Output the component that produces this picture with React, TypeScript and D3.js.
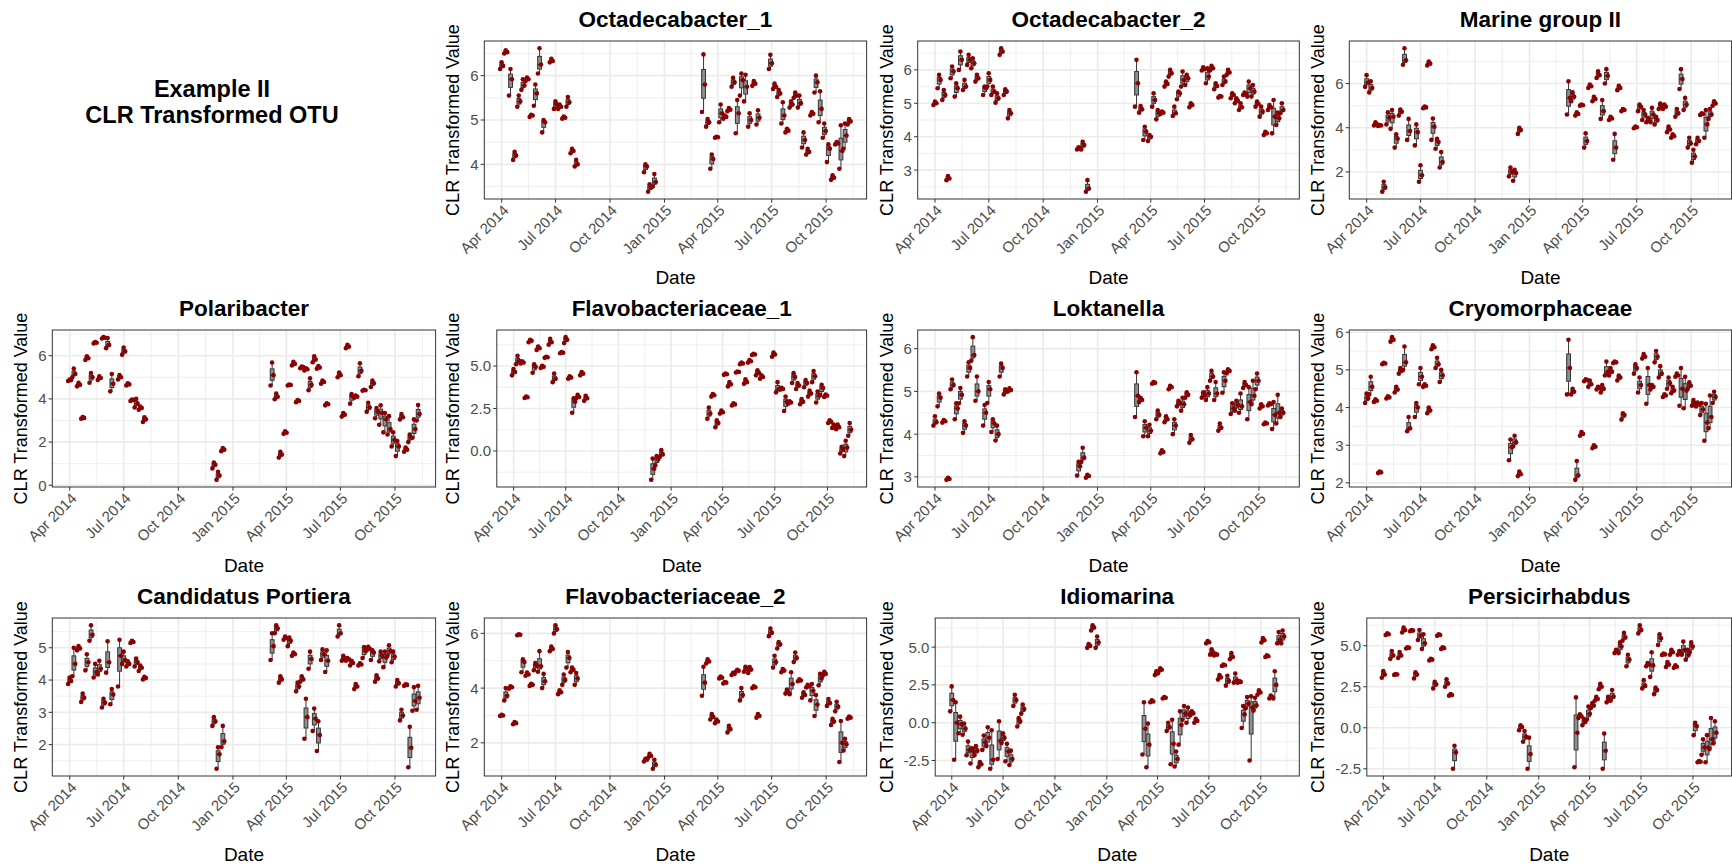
import React from "react";
import * as d3 from "d3";

// sampling dates shared by every taxon (3 replicates per date)
const sampleDates = [
  "2014-04-01", "2014-04-08", "2014-04-16", "2014-04-23", "2014-04-30", "2014-05-07",
  "2014-05-14", "2014-05-21", "2014-05-28", "2014-06-04", "2014-06-11", "2014-06-24",
  "2014-07-01", "2014-07-08", "2014-07-15", "2014-07-22", "2014-07-29", "2014-08-05",
  "2014-11-30", "2014-12-07", "2014-12-15",
  "2015-03-08", "2015-03-15", "2015-03-22", "2015-03-30", "2015-04-06", "2015-04-13",
  "2015-04-20", "2015-04-27", "2015-05-04", "2015-05-11", "2015-05-18", "2015-05-25",
  "2015-06-01", "2015-06-08", "2015-06-29", "2015-07-06", "2015-07-13", "2015-07-20",
  "2015-07-27", "2015-08-03", "2015-08-10", "2015-08-17", "2015-08-24", "2015-08-31",
  "2015-09-07", "2015-09-14", "2015-09-21", "2015-09-28", "2015-10-05", "2015-10-12",
  "2015-10-19", "2015-10-26", "2015-11-02", "2015-11-09",
];

const dateBreaks = ["2014-04-01", "2014-07-01", "2014-10-01", "2015-01-01", "2015-04-01", "2015-07-01", "2015-10-01"];
// outer quarter bounds, only used to place the minor grid lines
const dateBreaksOuter = ["2014-01-01", "2016-01-01"];

// CLR values per date: [low, mid, high] replicate
const octadecabacter1 = [
  [6.15, 6.22, 6.3], [6.5, 6.53, 6.57], [5.55, 5.92, 6.15], [4.1, 4.2, 4.28], [5.3, 5.42, 5.55], [5.68, 5.78, 5.92],
  [5.88, 5.92, 5.96], [5.07, 5.1, 5.12], [5.32, 5.6, 5.8], [6.05, 6.25, 6.62], [4.72, 4.95, 5.0], [6.3, 6.33, 6.38],
  [5.25, 5.35, 5.42], [5.25, 5.3, 5.35], [5.03, 5.05, 5.08], [5.3, 5.4, 5.52], [4.25, 4.3, 4.35], [3.95, 4.0, 4.1],
  [3.82, 3.95, 4.0], [3.38, 3.48, 3.55], [3.5, 3.6, 3.78],
  [5.18, 5.8, 6.48], [4.85, 4.95, 5.02], [3.9, 4.12, 4.22], [4.6, 4.61, 4.62], [4.95, 5.15, 5.35], [5.03, 5.07, 5.1],
  [5.2, 5.23, 5.27], [5.75, 5.85, 5.95], [4.7, 5.15, 5.45], [5.55, 5.9, 6.05], [5.42, 5.75, 6.02], [4.85, 5.0, 5.15],
  [5.77, 5.82, 5.88], [4.9, 5.05, 5.22], [6.15, 6.28, 6.47], [5.7, 5.75, 5.82], [5.52, 5.6, 5.68], [4.92, 5.1, 5.4],
  [4.72, 4.76, 4.8], [5.28, 5.35, 5.42], [5.5, 5.55, 5.62], [5.28, 5.38, 5.55], [4.38, 4.55, 4.72], [4.22, 4.28, 4.35],
  [5.1, 5.14, 5.18], [5.62, 5.85, 6.0], [4.95, 5.25, 5.65], [4.6, 4.75, 4.92], [4.05, 4.35, 4.45], [3.65, 3.7, 3.75],
  [4.45, 4.47, 4.5], [3.9, 4.3, 4.88], [4.35, 4.65, 4.92], [4.9, 4.97, 5.02],
];

const octadecabacter2 = [
  [4.95, 5.0, 5.05], [5.45, 5.7, 5.85], [5.1, 5.25, 5.4], [2.7, 2.75, 2.82], [5.75, 5.95, 6.1], [5.2, 5.45, 5.6],
  [6.0, 6.3, 6.55], [5.4, 5.5, 5.7], [6.15, 6.3, 6.45], [6.05, 6.2, 6.35], [5.65, 5.75, 5.85], [5.25, 5.45, 5.5],
  [5.5, 5.7, 5.9], [5.25, 5.35, 5.5], [5.02, 5.15, 5.3], [6.45, 6.55, 6.65], [5.25, 5.35, 5.42], [4.55, 4.7, 4.8],
  [3.62, 3.65, 3.68], [3.62, 3.75, 3.85], [2.35, 2.45, 2.7],
  [4.9, 5.6, 6.3], [4.72, 4.82, 4.92], [3.9, 4.15, 4.3], [3.87, 4.0, 4.05], [4.9, 5.1, 5.3], [4.52, 4.7, 4.8],
  [4.68, 4.72, 4.75], [5.5, 5.58, 5.65], [5.8, 5.9, 6.0], [4.62, 4.7, 4.9], [5.12, 5.3, 5.35], [5.5, 5.7, 5.95],
  [5.55, 5.75, 5.85], [4.88, 4.95, 5.0], [5.98, 6.02, 6.08], [5.6, 5.8, 6.05], [5.98, 6.05, 6.12], [5.42, 5.52, 5.6],
  [5.17, 5.2, 5.22], [5.55, 5.65, 5.8], [5.85, 5.92, 6.0], [5.15, 5.25, 5.3], [5.0, 5.08, 5.15], [4.8, 4.88, 5.0],
  [5.25, 5.28, 5.32], [5.2, 5.45, 5.65], [5.2, 5.35, 5.55], [4.9, 4.98, 5.05], [4.6, 4.75, 4.9], [4.05, 4.1, 4.15],
  [4.8, 4.88, 4.95], [4.1, 4.6, 5.1], [4.35, 4.55, 4.72], [4.7, 4.8, 5.0],
];

const marineGroupII = [
  [5.85, 6.05, 6.38], [5.6, 5.8, 6.1], [4.1, 4.15, 4.25], [4.08, 4.1, 4.12], [1.1, 1.3, 1.55], [4.15, 4.45, 4.7],
  [3.95, 4.5, 4.8], [3.1, 3.5, 3.7], [4.55, 4.72, 4.82], [6.85, 7.05, 7.6], [3.45, 3.85, 4.4], [3.2, 3.8, 4.15],
  [1.55, 1.85, 2.3], [4.88, 4.92, 4.96], [6.82, 6.9, 7.0], [3.45, 4.05, 4.42], [3.05, 3.35, 3.5], [2.2, 2.45, 2.9],
  [1.8, 2.0, 2.2], [1.6, 1.95, 2.1], [3.72, 3.9, 4.0],
  [4.6, 5.35, 6.1], [5.2, 5.4, 5.6], [4.55, 4.62, 4.7], [5.0, 5.02, 5.05], [3.1, 3.4, 3.75], [5.8, 5.88, 5.95],
  [5.2, 5.3, 5.4], [6.25, 6.38, 6.55], [4.4, 4.75, 5.25], [6.0, 6.35, 6.65], [4.35, 4.42, 4.5], [2.55, 3.1, 3.72],
  [5.7, 5.8, 5.9], [4.75, 4.8, 4.85], [3.98, 4.02, 4.05], [4.75, 4.95, 5.05], [4.35, 4.6, 4.8], [4.25, 4.35, 4.45],
  [4.25, 4.6, 4.9], [4.15, 4.35, 4.5], [4.85, 5.0, 5.1], [4.85, 4.95, 5.05], [3.8, 3.92, 4.05], [3.55, 3.62, 3.7],
  [4.5, 4.65, 4.85], [5.75, 6.2, 6.65], [4.8, 5.05, 5.35], [3.1, 3.3, 3.55], [2.42, 2.7, 3.0], [3.25, 3.4, 3.55],
  [4.58, 4.62, 4.65], [3.55, 4.15, 4.8], [4.4, 4.6, 4.85], [5.0, 5.1, 5.2],
];

const polaribacter = [
  [4.83, 4.87, 4.9], [5.0, 5.15, 5.4], [4.58, 4.65, 4.75], [3.08, 3.12, 3.16], [5.8, 5.88, 5.97], [4.75, 5.0, 5.2],
  [6.57, 6.6, 6.63], [4.88, 4.97, 5.05], [6.8, 6.83, 6.86], [6.35, 6.5, 6.82], [4.35, 4.7, 5.15], [4.9, 5.0, 5.1],
  [6.05, 6.2, 6.38], [4.62, 4.67, 4.72], [3.9, 3.95, 3.97], [3.6, 3.78, 4.0], [3.5, 3.58, 3.65], [2.93, 3.05, 3.15],
  [0.78, 0.95, 1.05], [0.25, 0.45, 0.62], [1.58, 1.65, 1.72],
  [4.62, 5.1, 5.68], [3.98, 4.1, 4.25], [1.28, 1.42, 1.55], [2.38, 2.43, 2.5], [4.62, 4.64, 4.66], [5.55, 5.62, 5.72],
  [3.85, 3.9, 3.95], [5.42, 5.47, 5.5], [5.32, 5.37, 5.42], [4.4, 4.65, 4.95], [5.7, 5.82, 5.97], [5.4, 5.45, 5.52],
  [4.7, 4.78, 4.85], [3.7, 3.75, 3.8], [5.0, 5.1, 5.22], [3.18, 3.27, 3.35], [6.35, 6.42, 6.5], [3.78, 4.1, 4.22],
  [4.05, 4.1, 4.15], [5.05, 5.3, 5.65], [4.38, 4.4, 4.42], [3.4, 3.6, 3.82], [4.55, 4.72, 4.85], [3.1, 3.4, 3.58],
  [2.8, 3.35, 3.7], [2.45, 3.05, 3.35], [2.35, 2.6, 3.2], [1.8, 2.1, 2.45], [1.35, 1.8, 2.05], [3.05, 3.15, 3.3],
  [1.55, 1.65, 1.75], [2.0, 2.2, 2.35], [2.2, 2.6, 3.05], [3.0, 3.3, 3.72],
];

const flavobacteriaceae1 = [
  [4.45, 4.65, 4.82], [5.1, 5.3, 5.6], [5.15, 5.2, 5.28], [3.12, 3.16, 3.2], [6.4, 6.48, 6.55], [4.6, 4.95, 5.1],
  [5.95, 6.05, 6.15], [4.88, 4.95, 5.02], [5.48, 5.52, 5.55], [6.25, 6.4, 6.6], [4.05, 4.25, 4.55], [5.75, 5.78, 5.82],
  [6.35, 6.55, 6.7], [4.25, 4.32, 4.4], [2.25, 2.9, 3.1], [3.1, 3.18, 3.3], [4.45, 4.55, 4.65], [2.95, 3.1, 3.25],
  [-1.7, -1.05, -0.45], [-0.85, -0.5, -0.3], [-0.35, -0.2, 0.05],
  [1.9, 2.2, 2.55], [3.2, 3.28, 3.35], [1.4, 1.65, 1.8], [2.2, 2.28, 2.38], [4.48, 4.52, 4.55], [3.8, 3.92, 4.05],
  [2.68, 2.74, 2.8], [4.62, 4.65, 4.67], [5.1, 5.15, 5.2], [3.95, 4.05, 4.22], [5.2, 5.28, 5.35], [5.65, 5.68, 5.72],
  [4.45, 4.6, 4.75], [4.25, 4.35, 4.45], [5.55, 5.68, 5.8], [3.45, 3.65, 4.05], [3.6, 3.65, 3.72], [2.35, 2.9, 3.2],
  [2.78, 2.85, 2.92], [4.0, 4.35, 4.58], [3.65, 3.85, 4.0], [2.75, 2.9, 3.05], [3.75, 4.0, 4.18], [3.2, 3.38, 3.55],
  [4.05, 4.4, 4.7], [2.85, 3.25, 3.5], [3.3, 3.7, 3.9], [3.18, 3.25, 3.32], [1.65, 1.72, 1.8], [1.35, 1.45, 1.55],
  [1.28, 1.4, 1.55], [-0.15, 0.08, 0.25], [-0.3, 0.2, 0.6], [0.9, 1.25, 1.65],
];

const loktanella = [
  [4.2, 4.28, 4.42], [4.65, 4.85, 4.95], [4.27, 4.3, 4.33], [2.93, 2.95, 2.98], [5.05, 5.15, 5.28], [4.35, 4.6, 4.72],
  [4.72, 4.92, 5.08], [4.03, 4.2, 4.3], [5.35, 5.55, 5.68], [5.72, 5.85, 6.27], [4.78, 5.0, 5.35], [4.2, 4.5, 4.68],
  [4.73, 5.05, 5.22], [4.05, 4.25, 4.35], [3.85, 4.0, 4.2], [5.35, 5.55, 5.65], [4.93, 5.0, 5.05], [5.0, 5.03, 5.07],
  [3.03, 3.25, 3.35], [3.35, 3.45, 3.68], [2.98, 3.02, 3.05],
  [4.4, 4.9, 5.45], [4.75, 4.8, 4.85], [3.95, 4.15, 4.3], [3.95, 4.08, 4.22], [5.18, 5.2, 5.22], [4.35, 4.45, 4.55],
  [3.55, 3.58, 3.62], [4.28, 4.35, 4.42], [5.05, 5.1, 5.13], [4.0, 4.2, 4.35], [4.65, 4.72, 4.78], [4.55, 4.7, 4.85],
  [4.85, 4.92, 4.98], [3.8, 3.88, 3.98], [4.85, 4.9, 4.98], [4.8, 4.95, 5.1], [5.25, 5.35, 5.48], [4.8, 4.95, 5.22],
  [4.08, 4.15, 4.25], [4.97, 5.25, 5.45], [5.42, 5.48, 5.52], [4.47, 4.6, 4.72], [4.55, 4.68, 4.78], [4.5, 4.65, 4.95],
  [5.08, 5.15, 5.22], [4.35, 4.75, 5.1], [4.7, 4.9, 5.25], [5.05, 5.25, 5.42], [4.6, 4.65, 4.7], [4.23, 4.25, 4.27],
  [4.67, 4.7, 4.72], [4.12, 4.45, 4.75], [4.25, 4.5, 4.92], [4.4, 4.5, 4.6],
];

const cryomorphaceae = [
  [4.12, 4.25, 4.37], [4.35, 4.55, 4.82], [4.15, 4.18, 4.22], [2.26, 2.28, 2.3], [5.15, 5.17, 5.19], [4.24, 4.27, 4.3],
  [5.75, 5.8, 5.87], [4.4, 4.48, 4.55], [4.9, 4.98, 5.05], [5.0, 5.2, 5.62], [3.37, 3.45, 3.75], [3.75, 4.0, 4.12],
  [4.62, 4.82, 5.05], [4.55, 4.58, 4.62], [3.85, 3.92, 4.0], [5.55, 5.6, 5.65], [5.05, 5.15, 5.32], [4.68, 4.85, 5.0],
  [2.6, 2.95, 3.15], [2.97, 3.08, 3.25], [2.18, 2.23, 2.3],
  [4.35, 5.05, 5.8], [4.35, 4.42, 4.5], [2.08, 2.2, 2.58], [3.25, 3.3, 3.35], [4.7, 4.73, 4.75], [4.55, 4.62, 4.72],
  [2.92, 2.96, 3.0], [4.48, 4.52, 4.55], [4.4, 4.5, 4.6], [4.85, 4.95, 5.22], [4.85, 4.95, 5.05], [5.18, 5.2, 5.22],
  [4.72, 4.8, 4.85], [3.68, 3.8, 3.85], [4.9, 5.05, 5.15], [4.4, 4.6, 4.8], [5.3, 5.35, 5.42], [4.1, 4.6, 5.05],
  [4.48, 4.55, 4.6], [5.2, 5.35, 5.5], [4.8, 4.9, 5.1], [4.28, 4.32, 4.35], [4.5, 4.65, 4.8], [4.38, 4.45, 4.55],
  [4.82, 4.85, 4.9], [4.05, 4.5, 5.05], [3.98, 4.45, 4.82], [4.5, 4.58, 4.67], [4.05, 4.12, 4.2], [4.03, 4.08, 4.13],
  [3.8, 3.95, 4.12], [3.12, 3.6, 4.1], [3.45, 3.75, 4.32], [4.12, 4.28, 4.42],
];

const candidatusPortiera = [
  [3.88, 3.97, 4.08], [4.12, 4.5, 5.0], [4.92, 4.98, 5.05], [3.32, 3.45, 3.58], [4.3, 4.55, 4.8], [5.22, 5.4, 5.7],
  [4.08, 4.25, 4.5], [4.17, 4.35, 4.6], [3.15, 3.3, 3.42], [4.23, 4.55, 5.2], [3.25, 3.55, 3.72], [3.8, 4.75, 5.25],
  [4.5, 4.62, 4.88], [4.42, 4.5, 4.58], [5.15, 5.18, 5.22], [4.42, 4.55, 4.67], [4.28, 4.38, 4.45], [4.02, 4.06, 4.1],
  [2.58, 2.72, 2.85], [1.25, 1.7, 1.92], [1.92, 2.1, 2.58],
  [4.62, 5.05, 5.45], [5.45, 5.6, 5.7], [3.92, 4.02, 4.12], [5.25, 5.3, 5.35], [5.05, 5.22, 5.32], [4.75, 4.8, 4.85],
  [3.65, 3.8, 3.92], [3.95, 4.02, 4.12], [2.18, 2.85, 3.42], [4.35, 4.65, 4.88], [2.42, 2.8, 3.12], [1.8, 2.3, 2.72],
  [4.62, 4.8, 4.95], [4.25, 4.6, 4.92], [5.35, 5.45, 5.7], [4.6, 4.68, 4.75], [4.6, 4.64, 4.68], [4.45, 4.53, 4.6],
  [3.72, 3.8, 3.88], [4.45, 4.48, 4.52], [4.68, 4.9, 5.02], [4.92, 4.97, 5.03], [4.62, 4.85, 4.92], [3.95, 4.05, 4.15],
  [4.58, 4.75, 4.88], [4.4, 4.7, 4.88], [4.75, 4.9, 5.08], [4.55, 4.72, 4.88], [3.8, 3.9, 4.0], [2.75, 2.9, 3.08],
  [3.82, 3.85, 3.87], [1.3, 1.9, 2.55], [3.05, 3.35, 3.78], [3.08, 3.45, 3.82],
];

const flavobacteriaceae2 = [
  [2.98, 3.0, 3.02], [3.55, 3.72, 4.0], [3.98, 4.03, 4.07], [2.68, 2.72, 2.76], [5.93, 5.95, 5.97], [4.58, 4.95, 5.05],
  [4.45, 4.5, 4.57], [4.08, 4.12, 4.16], [4.65, 4.82, 4.92], [4.6, 4.8, 5.35], [4.0, 4.25, 4.52], [5.35, 5.43, 5.52],
  [6.0, 6.15, 6.3], [3.78, 3.85, 3.92], [4.12, 4.3, 4.5], [4.75, 5.1, 5.32], [4.58, 4.67, 4.75], [4.12, 4.35, 4.55],
  [1.32, 1.38, 1.42], [1.45, 1.52, 1.6], [1.05, 1.2, 1.38],
  [3.72, 4.2, 4.78], [4.9, 4.97, 5.05], [2.85, 2.95, 3.05], [2.72, 2.78, 2.85], [4.35, 4.38, 4.42], [4.17, 4.2, 4.22],
  [2.38, 2.5, 2.62], [4.48, 4.52, 4.56], [4.6, 4.63, 4.67], [3.55, 3.75, 4.0], [4.6, 4.7, 4.78], [4.55, 4.68, 4.77],
  [4.0, 4.03, 4.07], [2.92, 2.98, 3.05], [5.9, 6.02, 6.18], [4.75, 4.95, 5.18], [5.45, 5.6, 5.68], [4.58, 4.64, 4.7],
  [3.8, 3.85, 3.95], [3.78, 4.15, 4.58], [4.95, 5.1, 5.3], [4.25, 4.28, 4.32], [3.65, 3.75, 3.85], [4.02, 4.06, 4.12],
  [3.55, 3.9, 4.15], [2.98, 3.4, 3.75], [4.1, 4.35, 4.52], [4.45, 4.52, 4.6], [3.35, 3.45, 3.6], [2.65, 2.78, 2.88],
  [3.15, 3.32, 3.5], [1.3, 2.0, 2.8], [1.72, 1.95, 2.15], [2.88, 2.92, 2.96],
];

const idiomarina = [
  [0.75, 1.5, 2.4], [-2.45, 0.0, 1.35], [-0.7, -0.1, 0.4], [-0.8, -0.4, -0.05], [-2.15, -1.8, -1.25], [-2.7, -1.9, -1.7],
  [-2.15, -1.85, -1.55], [-2.95, -2.75, -2.6], [-1.8, -1.3, -0.85], [-1.55, -1.0, -0.3], [-3.05, -2.45, -0.5], [-2.4, -1.2, 0.1],
  [-1.35, -1.0, -0.7], [-2.55, -1.9, -1.4], [-2.8, -2.4, -1.85], [1.1, 1.5, 1.85], [-0.25, 0.1, 0.3], [0.6, 0.9, 1.2],
  [4.95, 5.08, 5.2], [6.1, 6.3, 6.45], [4.95, 5.3, 5.7],
  [-2.1, -0.4, 1.35], [-2.95, -1.45, -0.05], [1.35, 1.4, 1.48], [3.15, 3.25, 3.4], [3.4, 3.5, 3.6], [1.6, 1.65, 1.7],
  [-0.55, -0.3, 0.0], [-2.75, -1.4, 0.2], [-2.9, -2.4, -1.9], [-1.45, -0.15, 0.75], [0.2, 0.6, 1.1], [0.0, 0.55, 1.0],
  [0.5, 0.62, 0.75], [0.0, 0.12, 0.25], [5.25, 5.32, 5.4], [4.5, 4.65, 4.85], [4.45, 4.5, 4.55], [2.85, 3.0, 3.15],
  [3.75, 3.8, 3.85], [2.45, 2.75, 3.1], [4.2, 4.35, 4.6], [2.65, 2.8, 3.25], [2.65, 2.7, 2.75], [-0.35, 0.55, 1.1],
  [0.95, 1.25, 1.7], [-2.5, 1.0, 1.75], [0.8, 1.15, 1.65], [1.85, 2.0, 2.15], [5.3, 5.45, 5.6], [4.35, 4.4, 4.45],
  [1.6, 1.7, 1.8], [1.6, 2.5, 3.4], [5.25, 5.5, 6.0], [5.25, 5.7, 6.1],
];

const persicirhabdus = [
  [3.05, 3.25, 3.45], [5.65, 5.7, 5.75], [4.2, 4.4, 4.68], [3.22, 3.25, 3.28], [4.25, 4.4, 4.62], [5.8, 5.95, 6.1],
  [4.83, 4.87, 4.9], [5.88, 5.92, 5.96], [3.0, 3.25, 3.38], [5.35, 5.6, 5.95], [4.8, 5.15, 5.7], [4.1, 4.15, 4.2],
  [2.4, 2.65, 2.8], [5.6, 5.65, 5.7], [4.8, 4.85, 4.9], [2.5, 2.7, 2.95], [1.95, 2.0, 2.05], [-2.5, -1.5, -1.1],
  [-0.15, 0.05, 0.15], [-0.85, -0.55, -0.2], [-2.5, -1.6, -0.6],
  [-2.4, -0.3, 1.85], [0.6, 0.7, 0.82], [0.15, 0.35, 0.55], [0.5, 0.85, 1.3], [1.2, 1.35, 1.5], [1.65, 1.75, 1.88],
  [2.35, 2.5, 2.68], [-2.5, -1.4, -0.35], [1.55, 1.7, 1.88], [1.65, 1.9, 2.3], [4.55, 4.65, 4.75], [4.55, 4.95, 5.2],
  [5.3, 5.5, 5.78], [3.75, 4.15, 4.45], [5.75, 5.95, 6.25], [2.4, 2.55, 2.9], [3.75, 3.85, 3.95], [3.1, 3.8, 4.6],
  [2.05, 2.3, 2.45], [5.05, 5.45, 5.7], [4.43, 4.47, 4.52], [3.7, 3.85, 4.0], [4.45, 4.6, 4.75], [3.65, 3.72, 3.8],
  [4.45, 4.55, 4.68], [4.45, 4.75, 5.25], [4.15, 4.45, 4.75], [4.6, 4.95, 5.2], [-0.45, 0.1, 0.3], [-2.1, -2.07, -2.03],
  [-1.65, -1.2, -0.7], [-2.1, -1.2, -0.45], [-1.3, -0.7, 0.6], [-0.95, -0.3, 0.4],
];

const taxaNames = [
  "Octadecabacter_1", "Octadecabacter_2", "Marine group II",
  "Polaribacter", "Flavobacteriaceae_1", "Loktanella", "Cryomorphaceae",
  "Candidatus Portiera", "Flavobacteriaceae_2", "Idiomarina", "Persicirhabdus",
];
const taxaValues = [
  octadecabacter1, octadecabacter2, marineGroupII,
  polaribacter, flavobacteriaceae1, loktanella, cryomorphaceae,
  candidatusPortiera, flavobacteriaceae2, idiomarina, persicirhabdus,
];
const taxaYTicks = [
  [4, 5, 6], [3, 4, 5, 6], [2, 4, 6],
  [0, 2, 4, 6], [0, 2.5, 5], [3, 4, 5, 6], [2, 3, 4, 5, 6],
  [2, 3, 4, 5], [2, 4, 6], [-2.5, 0, 2.5, 5], [-2.5, 0, 2.5, 5],
];
// grid cell [row, col] of each plot; cell (0,0) holds the figure title
const taxaCells = [
  [0, 1], [0, 2], [0, 3],
  [1, 0], [1, 1], [1, 2], [1, 3],
  [2, 0], [2, 1], [2, 2], [2, 3],
];

const W = 1732;
const H = 867;
const FONT = "'Liberation Sans', Arial, Helvetica, sans-serif";
const rowTop = [41, 330, 618];
const rowBottom = [199, 487, 776];
const colLeft = [52.3, 484.3, 917.7, 1349.3]; // panel left for one-digit tick labels
const colRight = [435.6, 866.6, 1299.3, 1731.6];
const TICK_FS = 15;

const parseDate = d3.utcParse("%Y-%m-%d");
const dates = sampleDates.map((s) => parseDate(s) as Date);
const majorDates = dateBreaks.map((s) => parseDate(s) as Date);
const span = +dates[dates.length - 1] - +dates[0];
const xDomain = [new Date(+dates[0] - span * 0.05), new Date(+dates[dates.length - 1] + span * 0.05)];
const allQuarters = [parseDate(dateBreaksOuter[0]) as Date, ...majorDates, parseDate(dateBreaksOuter[1]) as Date];
const minorDates = d3
  .pairs(allQuarters)
  .map(([a, b]) => new Date((+a + +b) / 2))
  .filter((d) => d >= xDomain[0] && d <= xDomain[1]);
const fmtDate = d3.utcFormat("%b %Y");

// rough Arial advance widths, used to size the y tick label column
const charW = (c: string) => (c === "." ? 0.278 : c === "-" ? 0.333 : 0.556);
const textW = (s: string) => s.split("").reduce((a, c) => a + charW(c), 0) * TICK_FS;

const jitterPx = [-1.6, 1.4, -0.1];

function Panel({ idx }: { idx: number }) {
  const [row, col] = taxaCells[idx];
  const values = taxaValues[idx];
  const ticks = taxaYTicks[idx];
  const decimals = ticks.some((t) => !Number.isInteger(t));
  const fmt = (v: number) => (decimals ? v.toFixed(1) : String(v));
  const labels = ticks.map(fmt);
  const extra = Math.max(...labels.map(textW)) - textW("6");

  const top = rowTop[row];
  const bottom = rowBottom[row];
  const left = colLeft[col] + extra;
  const right = colRight[col];
  const cx = (left + right) / 2;

  const x = d3.scaleUtc().domain(xDomain).range([left, right]);
  const [lo, hi] = d3.extent(values.flat()) as [number, number];
  const pad = (hi - lo) * 0.05;
  const y = d3.scaleLinear().domain([lo - pad, hi + pad]).range([bottom, top]);

  const step = ticks[1] - ticks[0];
  const minorY: number[] = [];
  for (let v = ticks[0] - step / 2; v <= hi + pad; v += step) if (v >= lo - pad) minorY.push(v);

  const bw = 3.8;

  return (
    <g>
      <rect x={left} y={top} width={right - left} height={bottom - top} fill="#fff" />
      {minorY.map((v, i) => (
        <line key={"my" + i} x1={left} x2={right} y1={y(v)} y2={y(v)} stroke="#EBEBEB" strokeWidth={0.8} />
      ))}
      {minorDates.map((d, i) => (
        <line key={"mx" + i} x1={x(d)} x2={x(d)} y1={top} y2={bottom} stroke="#EBEBEB" strokeWidth={0.8} />
      ))}
      {ticks.map((v, i) => (
        <line key={"gy" + i} x1={left} x2={right} y1={y(v)} y2={y(v)} stroke="#EBEBEB" strokeWidth={1.6} />
      ))}
      {majorDates.map((d, i) => (
        <line key={"gx" + i} x1={x(d)} x2={x(d)} y1={top} y2={bottom} stroke="#EBEBEB" strokeWidth={1.6} />
      ))}

      {values.map((reps, i) => {
        const s = [...reps].sort(d3.ascending);
        const q1 = d3.quantileSorted(s, 0.25) as number;
        const md = d3.quantileSorted(s, 0.5) as number;
        const q3 = d3.quantileSorted(s, 0.75) as number;
        const px = x(dates[i]);
        return (
          <g key={"b" + i} stroke="#333" strokeWidth={1}>
            <line x1={px} x2={px} y1={y(s[2])} y2={y(q3)} />
            <line x1={px} x2={px} y1={y(q1)} y2={y(s[0])} />
            <rect x={px - bw / 2} y={y(q3)} width={bw} height={Math.max(0.3, y(q1) - y(q3))} fill="#8F8F8F" />
            <line x1={px - bw / 2} x2={px + bw / 2} y1={y(md)} y2={y(md)} strokeWidth={1.3} />
          </g>
        );
      })}
      {values.map((reps, i) =>
        reps.map((v, j) => (
          <circle key={"p" + i + "-" + j} cx={x(dates[i]) + jitterPx[j]} cy={y(v)} r={2.3} fill="#8B0000" />
        ))
      )}

      <rect x={left} y={top} width={right - left} height={bottom - top} fill="none" stroke="#333" strokeWidth={1} />

      {ticks.map((v, i) => (
        <g key={"ty" + i}>
          <line x1={left - 3.6} x2={left} y1={y(v)} y2={y(v)} stroke="#333" strokeWidth={1} />
          <text x={left - 5.8} y={y(v)} dy="0.36em" textAnchor="end" fontSize={TICK_FS} fill="#4D4D4D">
            {labels[i]}
          </text>
        </g>
      ))}
      {majorDates.map((d, i) => (
        <g key={"tx" + i}>
          <line x1={x(d)} x2={x(d)} y1={bottom} y2={bottom + 3.6} stroke="#333" strokeWidth={1} />
          <text
            transform={`translate(${x(d)},${bottom + 4.5}) rotate(-45)`}
            dy="0.75em"
            textAnchor="end"
            fontSize={TICK_FS}
            fill="#4D4D4D"
          >
            {fmtDate(d)}
          </text>
        </g>
      ))}

      <text x={cx} y={top - 14.5} textAnchor="middle" fontSize={22.5} fontWeight="bold" fill="#000">
        {taxaNames[idx]}
      </text>
      <text x={cx} y={bottom + 84.5} textAnchor="middle" fontSize={19} fill="#000">
        Date
      </text>
      <text
        transform={`translate(${colLeft[col] - 25},${(top + bottom) / 2}) rotate(-90)`}
        textAnchor="middle"
        fontSize={18}
        fill="#000"
      >
        CLR Transformed Value
      </text>
    </g>
  );
}

export default function App() {
  return (
    <svg
      width={W}
      height={H}
      style={{ position: "absolute", left: 0, top: 0, background: "#fff" }}
      fontFamily={FONT}
    >
      <rect width={W} height={H} fill="#fff" />
      <text x={212} y={96.5} textAnchor="middle" fontSize={23.5} fontWeight="bold">
        Example II
      </text>
      <text x={212} y={122.5} textAnchor="middle" fontSize={23.5} fontWeight="bold">
        CLR Transformed OTU
      </text>
      {taxaNames.map((_, i) => (
        <Panel key={i} idx={i} />
      ))}
    </svg>
  );
}
